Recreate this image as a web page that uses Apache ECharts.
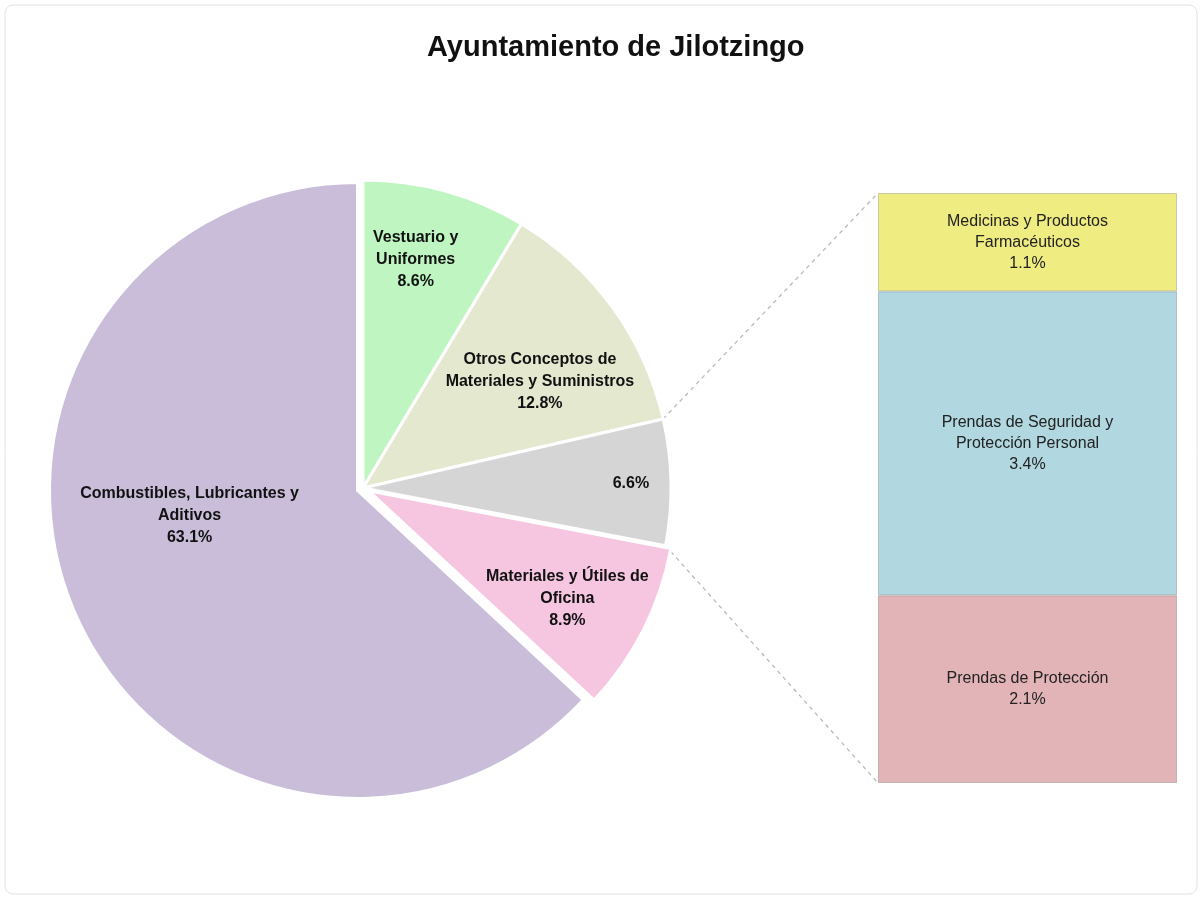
<!DOCTYPE html>
<html><head><meta charset="utf-8">
<script src="https://cdn.jsdelivr.net/npm/echarts@6/dist/echarts.min.js"></script>
<style>html,body{margin:0;padding:0;background:#fff}#c{width:1203px;height:901px}</style>
</head><body><div id="c"></div>
<script>
// ---- data ----
const TITLE = 'Ayuntamiento de Jilotzingo';
const pieNames = ['Vestuario y\nUniformes', 'Otros Conceptos de\nMateriales y Suministros', 'Otros', 'Materiales y Útiles de\nOficina', 'Combustibles, Lubricantes y\nAditivos'];
const pieValues = [8.6, 12.8, 6.6, 8.9, 63.1];
const pieShowName = [true, true, false, true, true];
const barNames = ['Prendas de Protección', 'Prendas de Seguridad y\nProtección Personal', 'Medicinas y Productos\nFarmacéuticos'];
const barValues = [2.1, 3.4, 1.1];
const barCategory = ['Otros'];

// ---- styles / layout ----
const pieColors = ['#bff5c1', '#e3e8cf', '#d5d5d5', '#f6c6e0', '#c9bdd9'];
const barColors = ['#e2b3b7', '#b1d8e0', '#efec81'];
const CX = 363, CY = 488, R = 308;
const labelPolar = [[13, 0.76], [59, 0.67], [89, 0.87], [118.5, 0.755], [261, 0.57]]; // [angle deg from top clockwise, radius fraction]
const FONT = 'Liberation Sans, Arial, sans-serif';

const chart = echarts.init(document.getElementById('c'), null, {renderer: 'canvas'});

const pieData = pieValues.map((v, i) => ({
  name: pieNames[i], value: v,
  selected: (i === 3 || i === 4),
  itemStyle: {color: pieColors[i]}
}));
const pieLabelData = pieValues.map((v, i) => ({name: pieNames[i], value: v}));

const barSeries = barValues.map((v, i) => ({
  type: 'bar', name: barNames[i], stack: 'o', data: [v],
  barWidth: '100%', xAxisIndex: 0, yAxisIndex: 0,
  itemStyle: {color: barColors[i], borderColor: 'rgba(0,0,0,0.18)', borderWidth: 1},
  label: {show: true, position: 'inside', formatter: p => p.seriesName + '\n' + p.value.toFixed(1) + '%',
    color: '#222', fontSize: 16, fontFamily: FONT, lineHeight: 21}
}));

chart.setOption({
  backgroundColor: '#ffffff',
  animation: false,
  title: {text: TITLE, left: 422, top: 28,
    textStyle: {fontSize: 29, fontWeight: 'bold', color: '#111', fontFamily: FONT}},
  grid: {left: 878, top: 193, width: 299, height: 590},
  xAxis: {type: 'category', data: barCategory, show: false},
  yAxis: {type: 'value', min: 0, max: 6.6, show: false},
  series: [{
    type: 'pie', center: [CX, CY], radius: R, startAngle: 90, clockwise: true,
    selectedMode: 'multiple', selectedOffset: 6,
    data: pieData,
    itemStyle: {borderColor: '#ffffff', borderWidth: 3},
    label: {show: false},
    labelLine: {show: false},
    emphasis: {disabled: true}
  }, {
    type: 'pie', center: [CX, CY], radius: R, startAngle: 90, clockwise: true, silent: true,
    data: pieLabelData,
    itemStyle: {color: 'rgba(0,0,0,0)'},
    label: {show: true, position: 'inside', color: '#111', fontSize: 16, fontWeight: 'bold', fontFamily: FONT, lineHeight: 22,
      formatter: p => (pieShowName[p.dataIndex] ? p.name + '\n' : '') + p.value.toFixed(1) + '%'},
    labelLine: {show: false},
    labelLayout: function (params) {
      const lp = labelPolar[params.dataIndex];
      const a = lp[0] * Math.PI / 180;
      return {x: CX + R * lp[1] * Math.sin(a), y: CY - R * lp[1] * Math.cos(a), align: 'center', verticalAlign: 'middle'};
    },
    emphasis: {disabled: true}
  }].concat(barSeries)
});

function drawConnectors() {
  let p1, p2;
  try {
    const lay = chart.getModel().getSeriesByIndex(0).getData().getItemLayout(2);
    p1 = [lay.cx + lay.r * Math.cos(lay.startAngle), lay.cy + lay.r * Math.sin(lay.startAngle)];
    p2 = [lay.cx + lay.r * Math.cos(lay.endAngle), lay.cy + lay.r * Math.sin(lay.endAngle)];
  } catch (e) {
    const total = pieValues.reduce((a, b) => a + b, 0);
    const s = (pieValues[0] + pieValues[1]) / total * 2 * Math.PI;
    const en = s + pieValues[2] / total * 2 * Math.PI;
    p1 = [CX + R * Math.sin(s), CY - R * Math.cos(s)];
    p2 = [CX + R * Math.sin(en), CY - R * Math.cos(en)];
  }
  const rect = chart.getModel().getComponent('grid', 0).coordinateSystem.getRect();
  const total = barValues.reduce((a, b) => a + b, 0);
  const yTop = chart.convertToPixel({gridIndex: 0}, [0, total])[1];
  const yBot = chart.convertToPixel({gridIndex: 0}, [0, 0])[1];
  const ls = {stroke: '#b5b5b5', lineWidth: 1.2, lineDash: [4, 4]};
  chart.setOption({
    graphic: [
      {type: 'rect', id: 'frame', silent: true, z: -10,
        shape: {x: 5, y: 5, width: 1192, height: 889, r: 8}, style: {fill: 'none', stroke: '#e2e2e2', lineWidth: 1}},
      {type: 'line', id: 'c1', silent: true, shape: {x1: p1[0], y1: p1[1], x2: rect.x, y2: yTop}, style: ls},
      {type: 'line', id: 'c2', silent: true, shape: {x1: p2[0], y1: p2[1], x2: rect.x, y2: yBot}, style: ls}
    ]
  });
}
drawConnectors();
</script>
</body></html>
